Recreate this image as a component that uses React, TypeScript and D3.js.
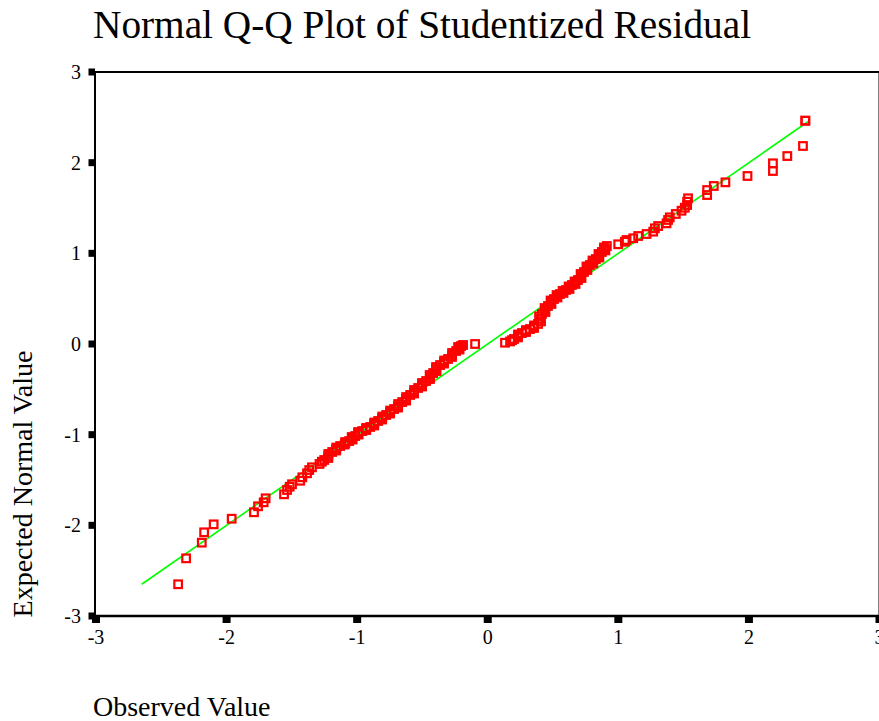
import React from 'react';
import * as d3 from 'd3';

const observed = [
  -2.371, -2.31, -2.19, -2.172, -2.099, -1.961, -1.79, -1.759, -1.716, -1.701,
  -1.56, -1.537, -1.517, -1.499, -1.436, -1.42, -1.384, -1.367, -1.346, -1.288,
  -1.27,
  -1.252, -1.221, -1.191, -1.16, -1.13, -1.091, -1.061, -1.038, -1.015, -0.992,
  -0.961, -0.931, -0.9, -0.869, -0.839, -0.808, -0.778, -0.747, -0.717, -0.686,
  -0.655, -0.625, -0.594, -0.564, -0.533, -0.503, -0.472, -0.441, -0.418, -0.396,
  -0.365, -0.334, -0.304, -0.273, -0.242, -0.219, -0.204, -0.189,
  -0.097,
  0.132, 0.171, 0.201, 0.232, 0.262, 0.293, 0.323, 0.354, 0.385, 0.4,
  0.415, 0.438, 0.461, 0.484, 0.507, 0.53, 0.553, 0.576, 0.599, 0.622,
  0.645, 0.668, 0.691, 0.714, 0.737, 0.759, 0.782, 0.805, 0.828, 0.851,
  0.874, 0.897, 0.912,
  0.999, 1.05, 1.063, 1.114, 1.152, 1.216, 1.267, 1.28, 1.305, 1.369,
  1.381, 1.394, 1.44, 1.484, 1.509, 1.527, 1.527, 1.534, 1.68, 1.68,
  1.731, 1.82, 1.989, 2.184, 2.184, 2.294, 2.414, 2.432, 2.432,
];
const expected = [
  -2.65, -2.364, -2.191, -2.077, -1.989, -1.927, -1.856, -1.79, -1.746, -1.702,
  -1.658, -1.61, -1.574, -1.547, -1.508, -1.47, -1.426, -1.39, -1.36, -1.323,
  -1.298,
  -1.279, -1.235, -1.191, -1.158, -1.125, -1.092, -1.07, -1.037, -1.015, -0.982,
  -0.96, -0.937, -0.915, -0.882, -0.849, -0.816, -0.783, -0.75, -0.717, -0.684,
  -0.64, -0.607, -0.562, -0.529, -0.485, -0.452, -0.408, -0.364, -0.32, -0.276,
  -0.232, -0.199, -0.165, -0.121, -0.077, -0.044, -0.022, -0.011,
  0.0,
  0.014, 0.028, 0.055, 0.088, 0.121, 0.143, 0.165, 0.188, 0.221, 0.276,
  0.331, 0.375, 0.419, 0.463, 0.496, 0.529, 0.551, 0.574, 0.596, 0.618,
  0.651, 0.673, 0.706, 0.75, 0.794, 0.838, 0.871, 0.904, 0.937, 0.971,
  1.015, 1.048, 1.081,
  1.1, 1.128, 1.147, 1.166, 1.191, 1.213, 1.239, 1.276, 1.301, 1.331,
  1.368, 1.397, 1.434, 1.47, 1.503, 1.533, 1.569, 1.607, 1.643, 1.698,
  1.743, 1.783, 1.853, 1.908, 1.993, 2.073, 2.184, 2.463, 2.463,
];
// Further cases inside the two dense bands (overlapping markers)
const bandObserved = [
  -1.221, -1.221, -1.161, -1.16, -1.096, -1.091, -1.035, -1.042, -0.989, -0.992,
  -0.931, -0.931, -0.87, -0.869, -0.809, -0.808, -0.748, -0.747, -0.687, -0.686,
  -0.625, -0.625, -0.564, -0.564, -0.503, -0.503, -0.442, -0.445, -0.392, -0.396,
  -0.335, -0.334, -0.274, -0.273, -0.216, -0.227,
  0.186, 0.231, 0.232, 0.293, 0.293, 0.354, 0.355, 0.408, 0.393, 0.442,
  0.435, 0.488, 0.481, 0.534, 0.527, 0.58, 0.573, 0.626, 0.619, 0.672,
  0.665, 0.718, 0.711, 0.763, 0.756, 0.809, 0.802, 0.855, 0.848, 0.901, 0.89,
];
const bandExpected = [
  -1.257, -1.213, -1.175, -1.142, -1.109, -1.081, -1.054, -1.026, -0.999, -0.971,
  -0.949, -0.926, -0.899, -0.866, -0.833, -0.8, -0.767, -0.734, -0.701, -0.662,
  -0.624, -0.585, -0.546, -0.507, -0.469, -0.43, -0.386, -0.342, -0.298, -0.254,
  -0.216, -0.182, -0.143, -0.099, -0.061, -0.033,
  0.042, 0.072, 0.105, 0.132, 0.154, 0.177, 0.205, 0.249, 0.304, 0.353,
  0.397, 0.441, 0.48, 0.513, 0.54, 0.563, 0.585, 0.607, 0.635, 0.662,
  0.69, 0.728, 0.772, 0.816, 0.855, 0.888, 0.921, 0.954, 0.993, 1.032, 1.065,
];
const xTicks = [-3, -2, -1, 0, 1, 2, 3];
const yTicks = [-3, -2, -1, 0, 1, 2, 3];
const refLine = [-2.65, 2.465];

export default function App() {
  const W = 879;
  const H = 721;
  const x = d3.scaleLinear().domain([-3, 3]).range([96, 879.5]);
  const y = d3.scaleLinear().domain([-3, 3]).range([616, 72]);
  const serif = '"Liberation Serif", "Times New Roman", serif';
  const pts = observed
    .map((o, i) => [o, expected[i]] as [number, number])
    .concat(bandObserved.map((o, i) => [o, bandExpected[i]] as [number, number]));
  const line = d3
    .line<number>()
    .x((d) => x(d))
    .y((d) => y(d));
  const s = 7.6;
  return (
    <svg
      width={W}
      height={H}
      style={{ position: 'absolute', left: 0, top: 0, background: '#fff' }}
      fontFamily={serif}
    >
      <rect width={W} height={H} fill="#fff" />
      <text x={93} y={38} fontSize={39.3} fill="#000">
        Normal Q-Q Plot of Studentized Residual
      </text>
      {/* frame */}
      <line x1={95} x2={95} y1={71} y2={617} stroke="#000" strokeWidth={2} />
      <line x1={94} x2={881} y1={72} y2={72} stroke="#000" strokeWidth={2} />
      <line x1={94} x2={881} y1={616} y2={616} stroke="#000" strokeWidth={2.5} />
      <line x1={879.5} x2={879.5} y1={72} y2={616} stroke="#000" strokeWidth={2} />
      {/* y ticks */}
      {yTicks.map((t) => (
        <g key={'y' + t}>
          <rect x={88.5} y={y(t) - 3.5} width={6.5} height={7} fill="#000" />
          <text x={81} y={y(t) + 7} fontSize={20} textAnchor="end" fill="#000">
            {t}
          </text>
        </g>
      ))}
      {/* x ticks */}
      {xTicks.map((t) => (
        <g key={'x' + t}>
          <rect x={x(t) - 4} y={617} width={8} height={6} fill="#000" />
          <text x={x(t)} y={644} fontSize={20} textAnchor="middle" fill="#000">
            {t}
          </text>
        </g>
      ))}
      {/* reference line */}
      <path d={line(refLine) || ''} stroke="#00ff00" strokeWidth={1.6} fill="none" />
      {/* points */}
      {pts.map((p, i) => (
        <rect
          key={i}
          x={x(p[0]) - s / 2}
          y={y(p[1]) - s / 2}
          width={s}
          height={s}
          fill="none"
          stroke="#ff0000"
          strokeWidth={2.2}
        />
      ))}
      <text x={93} y={716} fontSize={28} fill="#000">
        Observed Value
      </text>
      <text
        transform={`translate(32, 484) rotate(-90)`}
        fontSize={28}
        textAnchor="middle"
        fill="#000"
      >
        Expected Normal Value
      </text>
    </svg>
  );
}
